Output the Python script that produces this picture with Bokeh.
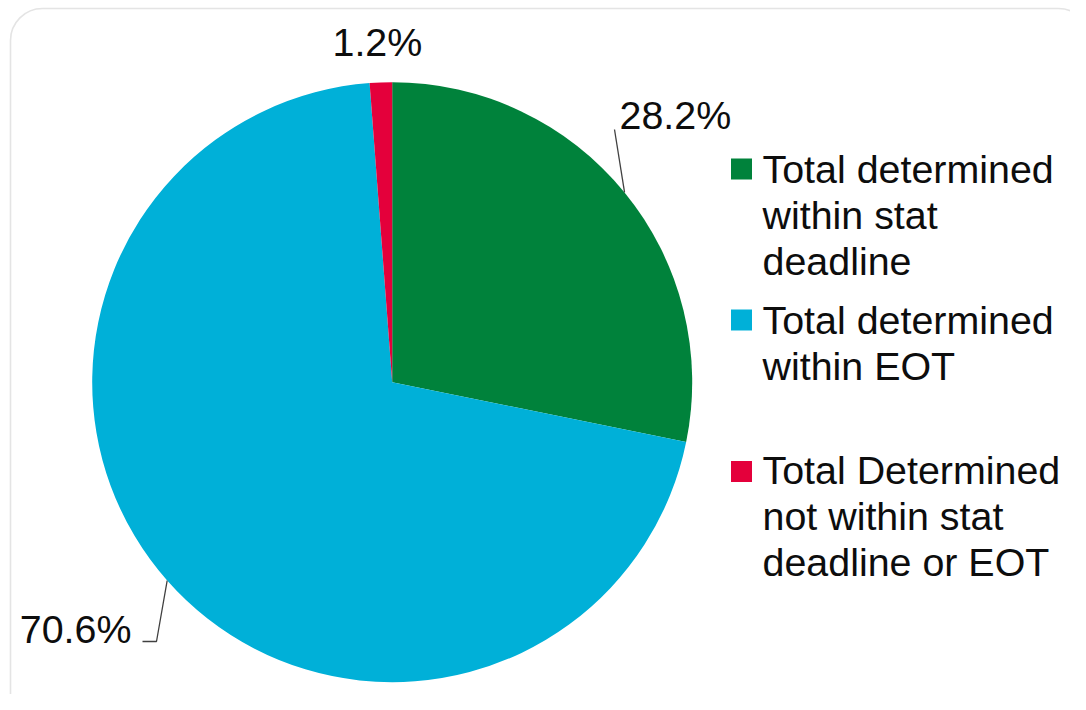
import math
from bokeh.plotting import figure
from bokeh.models import Range1d, BoxAnnotation, ColumnDataSource
from bokeh.core.properties import value
from bokeh.embed import file_html
from bokeh.resources import INLINE

# ---- data ----
categories = [
    "Total determined\nwithin stat\ndeadline",
    "Total determined\nwithin EOT",
    "Total Determined\nnot within stat\ndeadline or EOT",
]
shares = [28.2, 70.6, 1.2]
colors = ["#00823B", "#00B0D8", "#E4003B"]

# ---- layout (canvas pixels) ----
W, H = 1070, 694
cx, cy, R = 391.7, 312.3, 300.0
FONT = value("Liberation Sans")
FS = "39.4px"
TXT = "#0d0d0d"
DY = 14  # baseline correction for svg text

p = figure(width=W, height=H, output_backend="svg", toolbar_location=None,
           x_range=Range1d(0, W), y_range=Range1d(0, H),
           min_border=0, outline_line_color=None)
p.axis.visible = False
p.xgrid.visible = False
p.ygrid.visible = False
p.background_fill_color = "white"
p.border_fill_color = "white"

# rounded chart-area border
p.add_layout(BoxAnnotation(left=10, right=1090, top=686, bottom=-30,
                           fill_color=None, line_color="#a6a6a6", line_width=1.6,
                           border_radius=32, level="underlay"))

# ---- pie (clockwise from 12 o'clock) ----
total = sum(shares)
cum = [0.0]
for s in shares:
    cum.append(cum[-1] + s / total)
starts = [math.pi / 2 - 2 * math.pi * cum[i + 1] for i in range(len(shares))]
ends = [math.pi / 2 - 2 * math.pi * cum[i] for i in range(len(shares))]
mids = [math.pi / 2 - 2 * math.pi * (cum[i] + cum[i + 1]) / 2 for i in range(len(shares))]

src = ColumnDataSource(dict(x=[cx] * 3, y=[cy] * 3, start=starts, end=ends, color=colors))
p.wedge(x="x", y="y", radius=R, start_angle="start", end_angle="end",
        fill_color="color", line_color=None, source=src)

labels = [f"{s:.1f}%" for s in shares]

# 28.2% - leader from slice edge to label
ex0, ey0 = cx + R * math.cos(mids[0]), cy + R * math.sin(mids[0])
p.line([ex0, 614], [ey0, 565], line_color="#404040", line_width=1.3)
p.text(x=[619], y=[566 + DY], text=[labels[0]], text_font=FONT, text_font_size=FS,
       text_color=TXT, text_align="left", text_baseline="alphabetic")

# 70.6% - elbow leader
ex1, ey1 = cx + R * math.cos(mids[1]), cy + R * math.sin(mids[1])
p.line([ex1, 156, 142], [ey1, 53, 53], line_color="#404040", line_width=1.3)
p.text(x=[131], y=[52 + DY], text=[labels[1]], text_font=FONT, text_font_size=FS,
       text_color=TXT, text_align="right", text_baseline="alphabetic")

# 1.2%
p.text(x=[332], y=[639 + DY], text=[labels[2]], text_font=FONT, text_font_size=FS,
       text_color=TXT, text_align="left", text_baseline="alphabetic")

# ---- legend (manual) ----
first_baselines = [512, 361, 211]
square_y = [525.5, 374.5, 223]
line_gap = 46
for cat, col, b0, sy in zip(categories, colors, first_baselines, square_y):
    p.rect(x=[741], y=[sy], width=21, height=21, fill_color=col, line_color=None)
    lines = cat.split("\n")
    p.text(x=[762] * len(lines), y=[b0 + DY - i * line_gap for i in range(len(lines))],
           text=lines, text_font=FONT, text_font_size=FS, text_color=TXT,
           text_align="left", text_baseline="alphabetic")

open("out.html", "w").write(file_html(p, INLINE))
